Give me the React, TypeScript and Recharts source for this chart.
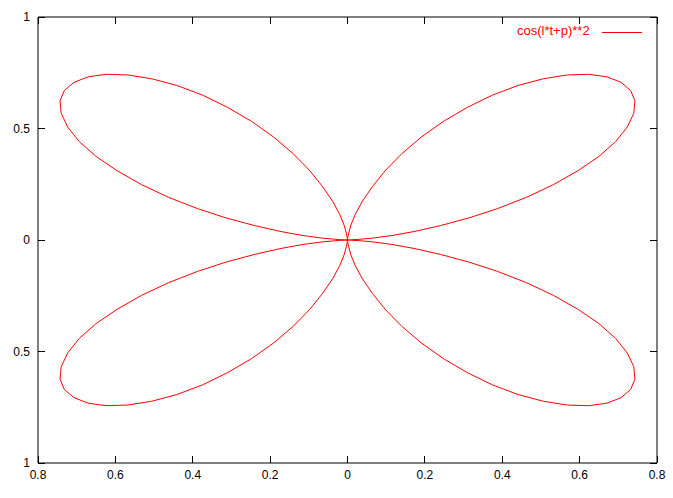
import { ScatterChart, Scatter, XAxis, YAxis, Legend } from "recharts";

// petals of the rose curve (x, y pairs in plot units)
const petalNE_x = [0, 0.0076, 0.03, 0.0664, 0.115, 0.1744, 0.241, 0.3138, 0.388, 0.462, 0.532, 0.595, 0.65, 0.693, 0.723, 0.74, 0.743, 0.732, 0.707, 0.67, 0.624, 0.568, 0.506, 0.441, 0.375, 0.31, 0.248, 0.191, 0.141, 0.0989, 0.065, 0.0387, 0.02, 0.0087, 0.003, 0.0003, 0];
const petalNE_y = [0, 0.0003, 0.003, 0.0087, 0.02, 0.0387, 0.065, 0.0989, 0.141, 0.191, 0.248, 0.31, 0.375, 0.441, 0.506, 0.568, 0.624, 0.67, 0.707, 0.732, 0.743, 0.74, 0.723, 0.693, 0.65, 0.595, 0.532, 0.462, 0.388, 0.3138, 0.241, 0.1744, 0.115, 0.0664, 0.03, 0.0076, 0];

const petalNW_x = [0, -0.0003, -0.003, -0.0087, -0.02, -0.0387, -0.065, -0.0989, -0.141, -0.191, -0.248, -0.31, -0.375, -0.441, -0.506, -0.568, -0.624, -0.67, -0.707, -0.732, -0.743, -0.74, -0.723, -0.693, -0.65, -0.595, -0.532, -0.462, -0.388, -0.3138, -0.241, -0.1744, -0.115, -0.0664, -0.03, -0.0076, 0];
const petalNW_y = [0, 0.0076, 0.03, 0.0664, 0.115, 0.1744, 0.241, 0.3138, 0.388, 0.462, 0.532, 0.595, 0.65, 0.693, 0.723, 0.74, 0.743, 0.732, 0.707, 0.67, 0.624, 0.568, 0.506, 0.441, 0.375, 0.31, 0.248, 0.191, 0.141, 0.0989, 0.065, 0.0387, 0.02, 0.0087, 0.003, 0.0003, 0];

const petalSW_x = [0, -0.0076, -0.03, -0.0664, -0.115, -0.1744, -0.241, -0.3138, -0.388, -0.462, -0.532, -0.595, -0.65, -0.693, -0.723, -0.74, -0.743, -0.732, -0.707, -0.67, -0.624, -0.568, -0.506, -0.441, -0.375, -0.31, -0.248, -0.191, -0.141, -0.0989, -0.065, -0.0387, -0.02, -0.0087, -0.003, -0.0003, 0];
const petalSW_y = [0, -0.0003, -0.003, -0.0087, -0.02, -0.0387, -0.065, -0.0989, -0.141, -0.191, -0.248, -0.31, -0.375, -0.441, -0.506, -0.568, -0.624, -0.67, -0.707, -0.732, -0.743, -0.74, -0.723, -0.693, -0.65, -0.595, -0.532, -0.462, -0.388, -0.3138, -0.241, -0.1744, -0.115, -0.0664, -0.03, -0.0076, 0];

const petalSE_x = [0, 0.0003, 0.003, 0.0087, 0.02, 0.0387, 0.065, 0.0989, 0.141, 0.191, 0.248, 0.31, 0.375, 0.441, 0.506, 0.568, 0.624, 0.67, 0.707, 0.732, 0.743, 0.74, 0.723, 0.693, 0.65, 0.595, 0.532, 0.462, 0.388, 0.3138, 0.241, 0.1744, 0.115, 0.0664, 0.03, 0.0076, 0];
const petalSE_y = [0, -0.0076, -0.03, -0.0664, -0.115, -0.1744, -0.241, -0.3138, -0.388, -0.462, -0.532, -0.595, -0.65, -0.693, -0.723, -0.74, -0.743, -0.732, -0.707, -0.67, -0.624, -0.568, -0.506, -0.441, -0.375, -0.31, -0.248, -0.191, -0.141, -0.0989, -0.065, -0.0387, -0.02, -0.0087, -0.003, -0.0003, 0];

const xTicks = [-0.8, -0.6, -0.4, -0.2, 0, 0.2, 0.4, 0.6, 0.8];
const yTicks = [-1, -0.5, 0, 0.5, 1];
const seriesName = "cos(l*t+p)**2";

const zip = (xs: number[], ys: number[]) => xs.map((x, i) => ({ x, y: ys[i] }));

const curve = [
  ...zip(petalNE_x, petalNE_y),
  ...zip(petalNW_x, petalNW_y),
  ...zip(petalSW_x, petalSW_y),
  ...zip(petalSE_x, petalSE_y),
];

// gnuplot drew the labels without minus signs
const fmt = (v: number) => String(Math.abs(v));

const fontFamily = "Liberation Sans, Arial, sans-serif";

// ticks point inward, like gnuplot's
const BottomTick = (props: any) => {
  const { x, y, payload } = props;
  return (
    <g>
      <line x1={x} y1={y} x2={x} y2={y - 7} stroke="#000" strokeWidth={1} shapeRendering="crispEdges" />
      <text x={x} y={y + 16} textAnchor="middle" fontFamily={fontFamily} fontSize={12} fill="#000">{fmt(payload.value)}</text>
    </g>
  );
};
const TopTick = (props: any) => {
  const { x, y } = props;
  return <line x1={x} y1={y} x2={x} y2={y + 7} stroke="#000" strokeWidth={1} shapeRendering="crispEdges" />;
};
const LeftTick = (props: any) => {
  const { x, y, payload } = props;
  return (
    <g>
      <line x1={x} y1={y} x2={x + 7} y2={y} stroke="#000" strokeWidth={1} shapeRendering="crispEdges" />
      <text x={x - 8} y={y + 4} textAnchor="end" fontFamily={fontFamily} fontSize={12} fill="#000">{fmt(payload.value)}</text>
    </g>
  );
};
const RightTick = (props: any) => {
  const { x, y } = props;
  return <line x1={x} y1={y} x2={x - 7} y2={y} stroke="#000" strokeWidth={1} shapeRendering="crispEdges" />;
};

const LegendBox = () => (
  <div style={{ position: "absolute", left: 0, top: 0, width: 673, height: 60, pointerEvents: "none" }}>
    <span style={{ position: "absolute", left: 517, top: 23, color: "red", fontFamily, fontSize: 13, lineHeight: "16px" }}>{seriesName}</span>
    <div style={{ position: "absolute", left: 602, top: 32, width: 40, height: 1, background: "red" }} />
  </div>
);

export default function App() {
  return (
    <div style={{ position: "fixed", left: 0, top: 0, background: "#fff" }}>
      <ScatterChart width={673} height={498} margin={{ top: 16, right: 15, bottom: 15, left: 8 }}>
        <XAxis xAxisId="b" dataKey="x" type="number" domain={[-0.8, 0.8]} ticks={xTicks}
          height={20} tickSize={0} tickMargin={0} stroke="#000" tickLine={false} tick={<BottomTick />} />
        <XAxis xAxisId="t" dataKey="x" type="number" orientation="top" domain={[-0.8, 0.8]} ticks={xTicks}
          height={1} tickSize={0} tickMargin={0} stroke="#000" tickLine={false} tick={<TopTick />} />
        <YAxis yAxisId="l" dataKey="y" type="number" domain={[-1, 1]} ticks={yTicks}
          width={30} tickSize={0} tickMargin={0} stroke="#000" tickLine={false} tick={<LeftTick />} />
        <YAxis yAxisId="r" dataKey="y" type="number" orientation="right" domain={[-1, 1]} ticks={yTicks}
          width={1} tickSize={0} tickMargin={0} stroke="#000" tickLine={false} tick={<RightTick />} />
        <Legend content={() => <LegendBox />} wrapperStyle={{ position: "absolute", left: 0, top: 0 }} />
        <Scatter xAxisId="t" yAxisId="r" data={curve} shape={() => null} legendType="none" isAnimationActive={false} />
        <Scatter xAxisId="b" yAxisId="l" name={seriesName} data={curve} line={{ stroke: "red", strokeWidth: 1 }}
          lineType="joint" shape={() => null} fill="red" isAnimationActive={false} />
      </ScatterChart>
    </div>
  );
}
